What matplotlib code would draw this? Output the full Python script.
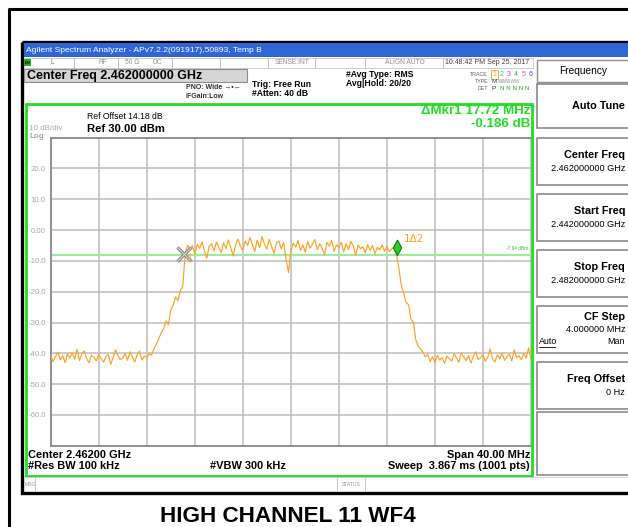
"""Spectrum analyzer screen capture: occupied bandwidth, high channel."""

import numpy as np
import matplotlib
matplotlib.use('Agg')
import matplotlib.pyplot as plt
from matplotlib import font_manager
from matplotlib.patches import Rectangle
from matplotlib.path import Path
from matplotlib.markers import MarkerStyle

# sweep setup
start_ghz = 2.442
stop_ghz = 2.482
ref_level = 30.0
db_per_div = 10.0

# trace 1, dBm, one reading every 0.2 MHz from start to stop
trace_dbm = [
    -40.5, -42.8, -41.0, -39.6, -42.1, -40.8, -43.0, -40.2, -41.5, -39.8,
    -41.9, -38.7, -42.4, -40.1, -39.2, -41.8, -43.1, -40.6, -41.2, -42.5,
    -40.3, -41.7, -42.9, -41.0, -40.4, -43.6, -41.3, -38.9, -40.7, -42.0,
    -41.6, -40.0, -42.3, -39.5, -41.1, -42.8, -40.5, -39.3, -42.2, -40.9,
    -41.4, -40.2, -40.6, -38.5, -37.0, -35.2, -33.4, -32.0, -29.5, -30.8,
    -26.0, -24.3, -21.7, -22.9, -19.6, -18.4, -7.6, -4.9, -6.3, -5.1,
    -7.8, -4.6, -5.9, -3.8, -6.7, -9.1, -5.2, -4.4, -6.8, -3.9,
    -5.6, -7.3, -4.1, -6.0, -3.2, -5.8, -8.4, -4.7, -2.9, -5.3,
    -6.5, -3.6, -5.0, -2.4, -4.8, -7.0, -3.3, -5.7, -2.1, -4.5,
    -6.2, -3.0, -5.4, -7.6, -4.2, -3.5, -6.1, -4.0, -9.5, -13.8,
    -6.8, -4.3, -5.5, -3.4, -6.6, -4.9, -7.2, -3.7, -5.9, -4.6,
    -3.1, -6.4, -4.4, -5.8, -8.0, -4.0, -5.2, -3.3, -6.9, -4.8,
    -5.7, -3.9, -7.1, -4.5, -6.3, -3.6, -5.1, -8.2, -4.9, -6.0,
    -5.4, -7.4, -4.7, -6.6, -5.0, -7.7, -5.6, -6.4, -4.8, -6.9,
    -5.3, -7.0, -6.1, -5.6, -7.9, -12.5, -18.0, -20.6, -23.5, -24.2,
    -29.0, -29.8, -35.5, -37.8, -38.6, -39.6, -41.2, -40.3, -42.7, -41.1,
    -43.0, -40.6, -42.2, -41.4, -43.3, -40.9, -41.8, -42.5, -40.1, -41.6,
    -42.9, -39.8, -41.3, -42.4, -40.7, -43.2, -41.0, -39.5, -42.0, -41.5,
    -40.4, -42.6, -41.2, -38.6, -41.9, -42.8, -40.5, -41.7, -39.9, -42.3,
    -41.0, -40.3, -42.5, -38.9, -41.4, -40.8, -42.1, -40.0, -41.6, -38.2,
    -41.8,
]

# delta marker readout
mkr2_ghz = 2.45310
mkr_delta_mhz = 17.72
mkr_delta_db = -0.186
mkr1_dbm = -7.94
display_line_dbm = -7.94

ytick_labels = ['', '20.0', '10.0', '0.00', '-10.0', '-20.0', '-30.0',
                '-40.0', '-50.0', '-60.0', '']

# softkey menu
softkey_titles = ['Auto Tune', 'Center Freq', 'Start Freq', 'Stop Freq', 'CF Step', 'Freq Offset']
softkey_values = ['', '2.462000000 GHz', '2.442000000 GHz', '2.482000000 GHz', '4.000000 MHz', '0 Hz']
softkey_tops = [84, 138, 194, 250, 306, 362]
softkey_bottoms = [128, 185, 241, 297, 353, 409]

W, H = 628, 527
SANS = 'Liberation Sans'
ORANGE = '#FFA21F'
GREEN = '#1FE01F'
GRAY_TXT = '#A8A8A8'


def have_font(name):
    try:
        font_manager.findfont(font_manager.FontProperties(family=name), fallback_to_default=False)
        return True
    except ValueError:
        return False


fig = plt.figure(figsize=(W / 100, H / 100), dpi=100)
fig.patch.set_facecolor('white')

# graticule, placed in pixel terms
gl, gr, gt, gb = 50.7, 531.0, 137.7, 445.7
ax = fig.add_axes([gl / W, 1 - gb / H, (gr - gl) / W, (gb - gt) / H], zorder=1)
ax.set_facecolor('white')

# screen furniture is drawn in pixel coordinates on an overlay
cv = fig.add_axes([0, 0, 1, 1], zorder=3)
cv.set_xlim(0, W)
cv.set_ylim(H, 0)
cv.patch.set_alpha(0)
cv.axis('off')


def txt(x, y, s, size=6, weight='normal', color='black', ha='left', va='center', family=SANS):
    cv.text(x, y, s, fontsize=size, fontweight=weight, color=color, ha=ha, va=va, family=family)


def rect(x0, y0, x1, y1, fc='none', ec='none', lw=1.0):
    cv.add_patch(Rectangle((x0, y0), x1 - x0, y1 - y0, facecolor=fc, edgecolor=ec, linewidth=lw))


# outer page frame
cv.plot([9, 9, W + 5], [H + 5, 8.5, 8.5], color='black', lw=2.2, solid_capstyle='butt')

# analyzer window border and title bar
rect(22, 41.5, W + 10, 492.5, ec='black', lw=2.4)
rect(23.5, 43, W + 10, 57, fc='#2F66D6')
txt(26, 50.5, 'Agilent Spectrum Analyzer - APv7.2.2(091917),50893, Temp B', size=6.1, color='white')

# status row
rect(23.5, 57.5, 533, 67.5, fc='white', ec='#C8C8C8', lw=0.6)
for sx in [74, 118, 172, 220, 268, 315, 365, 443]:
    cv.plot([sx, sx], [57.5, 67.5], color='#C0C0C0', lw=0.7)
rect(24, 58.5, 31, 66, fc='#22B022')
txt(27.5, 62.5, 'LXI', size=2.6, weight='bold', color='black', ha='center')
txt(52, 62.5, 'L', size=4.8, color='#707070', ha='center')
txt(103, 62.5, 'RF', size=4.8, color='#909090', ha='center')
txt(132, 62.5, '50 \u03a9', size=4.8, color='#909090', ha='center')
txt(157, 62.5, 'DC', size=4.8, color='#909090', ha='center')
txt(292, 62.5, 'SENSE:INT', size=4.8, color='#909090', ha='center')
txt(405, 62.5, 'ALIGN AUTO', size=4.8, color='#909090', ha='center')
txt(487, 62.5, '10:48:42 PM Sep 25, 2017', size=5.0, color='#404040', ha='center')

# active function box
rect(24, 69, 247, 82, fc='#D6D6D6', ec='#8C8C8C', lw=0.8)
txt(27, 75.8, 'Center Freq 2.462000000 GHz', size=9.0, weight='bold')

# acquisition settings
txt(186, 87.5, 'PNO: Wide \u2192\u2022\u2190', size=5.0, weight='bold', color='#303030')
txt(186, 96, 'IFGain:Low', size=5.0, weight='bold', color='#303030')
txt(252, 84.5, 'Trig: Free Run', size=6.2, weight='bold')
txt(252, 93.5, '#Atten: 40 dB', size=6.2, weight='bold')
txt(346, 74.5, '#Avg Type: RMS', size=6.2, weight='bold')
txt(346, 83.5, 'Avg|Hold: 20/20', size=6.2, weight='bold')

# trace/detector legend
txt(488, 74, 'TRACE', size=3.8, color='#606060', ha='right')
txt(488, 81.5, 'TYPE', size=3.8, color='#606060', ha='right')
txt(488, 89, 'DET', size=3.8, color='#606060', ha='right')
trace_colors = ['#F0A020', '#20C8E0', '#E040E0', '#30C030', '#F06090', '#4040F0']
for i, c in enumerate(trace_colors):
    txt(494 + i * 7.4, 74, str(i + 1), size=5.0, color=c, ha='center')
rect(491, 69.5, 497.5, 78.5, ec='#F0A020', lw=0.6)
txt(491, 81.5, 'M', size=4.6, color='#505050')
txt(498, 81.5, 'WWWWW', size=3.4, color='#909090')
txt(491, 89, 'P', size=4.6, color='#303030')
txt(500, 89, 'N N N N N', size=4.4, color='#20B020')

# measurement frame
rect(26, 103.5, 531.5, 475.5, ec=GREEN, lw=2.0)
txt(530, 110.5, '\u0394Mkr1 %.2f MHz' % mkr_delta_mhz, size=9.6, weight='bold', color=GREEN, ha='right')
txt(530, 124, '%.3f dB' % mkr_delta_db, size=9.6, weight='bold', color=GREEN, ha='right')
txt(87, 116.5, 'Ref Offset 14.18 dB', size=6.2)
txt(87, 128.5, 'Ref %.2f dBm' % ref_level, size=8.1, weight='bold')
txt(29, 129, '%d dB/div' % db_per_div, size=5.8, color=GRAY_TXT)
txt(29, 136.5, 'Log', size=5.8, color=GRAY_TXT, weight='bold')

# footer readouts
txt(28, 454.5, 'Center 2.46200 GHz', size=7.9, weight='bold')
txt(28, 466, '#Res BW 100 kHz', size=7.9, weight='bold')
txt(210, 466, '#VBW 300 kHz', size=7.9, weight='bold')
txt(530, 454.5, 'Span 40.00 MHz', size=7.9, weight='bold', ha='right')
txt(530, 466, 'Sweep  3.867 ms (1001 pts)', size=7.9, weight='bold', ha='right')

# message bar
for sx in [35, 337, 365]:
    cv.plot([sx, sx], [477, 491], color='#C8C8C8', lw=0.7)
cv.plot([23.5, W], [477, 477], color='#D0D0D0', lw=0.7)
txt(25, 484, 'MSG', size=3.6, color='#909090')
txt(351, 484, 'STATUS', size=3.6, color='#909090', ha='center')

# softkey panel
rect(537, 60, W + 10, 82, fc='white', ec='#909090', lw=1.0)
txt(583, 70.5, 'Frequency', size=7.3, ha='center')
for title, value, top, bot in zip(softkey_titles, softkey_values, softkey_tops, softkey_bottoms):
    rect(537, top, W + 10, bot, fc='white', ec='#8A8A8A', lw=1.2)
    if not value:
        txt(625, (top + bot) / 2, title, size=7.8, weight='bold', ha='right')
    elif title == 'CF Step':
        # three-line key: value plus Auto/Man toggle
        txt(625, top + 11.5, title, size=7.8, weight='bold', ha='right')
        txt(625, top + 24, value, size=6.6, ha='right')
        txt(539, top + 36, 'Auto', size=6.4)
        cv.plot([539, 555], [top + 40.5, top + 40.5], color='black', lw=0.6)
        txt(625, top + 36, 'Man', size=6.4, ha='right')
    else:
        txt(625, top + 17.5, title, size=7.8, weight='bold', ha='right')
        txt(625, top + 30.5, value, size=6.6, ha='right')
rect(537, 412, W + 10, 475, fc='white', ec='#8A8A8A', lw=1.2)

# caption under the screen, narrow face if the system has one
if have_font('Liberation Sans Narrow'):
    cv.text(288, 515.5, 'HIGH CHANNEL 11 WF4', fontsize=19, fontweight='bold', ha='center', va='center',
            family='Liberation Sans Narrow')
else:
    cv.text(288, 516, 'HIGH CHANNEL 11 WF4', fontsize=16.2, fontweight='bold', ha='center', va='center',
            family=SANS)

# ---- graticule contents ----
freq_ghz = np.linspace(start_ghz, stop_ghz, len(trace_dbm))
bottom_level = ref_level - 10 * db_per_div

ax.set_xlim(start_ghz, stop_ghz)
ax.set_ylim(bottom_level, ref_level)
ax.set_xticks(np.linspace(start_ghz, stop_ghz, 11))
ax.set_xticklabels([])
ax.set_yticks(np.arange(ref_level, bottom_level - 1, -db_per_div))
ax.set_yticklabels(ytick_labels, fontsize=5.6, color=GRAY_TXT, family=SANS)
ax.tick_params(length=0, pad=3.5)
ax.grid(True, color='#BDBDBD', lw=1.1)
ax.set_axisbelow(True)
for side in ['left', 'top', 'bottom']:
    ax.spines[side].set_color('#8A8A8A')
    ax.spines[side].set_linewidth(1.3)
ax.spines['right'].set_visible(False)

ax.axhline(display_line_dbm, color='#9EEC9E', lw=1.6, zorder=2)
ax.text(0.995, display_line_dbm + 1.0, '%.2f dBm' % display_line_dbm, transform=ax.get_yaxis_transform(),
        fontsize=3.4, color='#30C030', ha='right', va='bottom', family=SANS)

ax.plot(freq_ghz, trace_dbm, color=ORANGE, lw=0.85, zorder=3)

# marker 2 (reference) and marker 1 (delta)
mkr2_dbm = mkr1_dbm - mkr_delta_db
mkr1_ghz = mkr2_ghz + mkr_delta_mhz / 1000.0
ax.plot(mkr2_ghz, mkr2_dbm, marker='x', ms=10, mew=2.4, color='#8E8E8E', zorder=4)
ax.plot(mkr2_ghz, mkr2_dbm, marker='x', ms=10, mew=0.7, color='#D8D8D8', zorder=4)
ax.annotate('2', (mkr2_ghz, mkr2_dbm), xytext=(3, -5), textcoords='offset pixels',
            fontsize=5.5, color=ORANGE, ha='left', va='center', zorder=5)

tip = Path([(0, 0), (0.55, 1), (0, 2), (-0.55, 1), (0, 0)],
           [Path.MOVETO, Path.LINETO, Path.LINETO, Path.LINETO, Path.CLOSEPOLY])
ax.plot(mkr1_ghz, mkr1_dbm, marker=MarkerStyle(tip), ms=22, mfc='#1ED81E', mec='#0C7A0C', mew=0.8,
        linestyle='none', zorder=5)
ax.annotate('1\u03942', (mkr1_ghz, mkr1_dbm), xytext=(7, 16), textcoords='offset pixels',
            fontsize=7.5, color=ORANGE, ha='left', va='center', zorder=5)

fig.savefig('out.png', dpi=100)
